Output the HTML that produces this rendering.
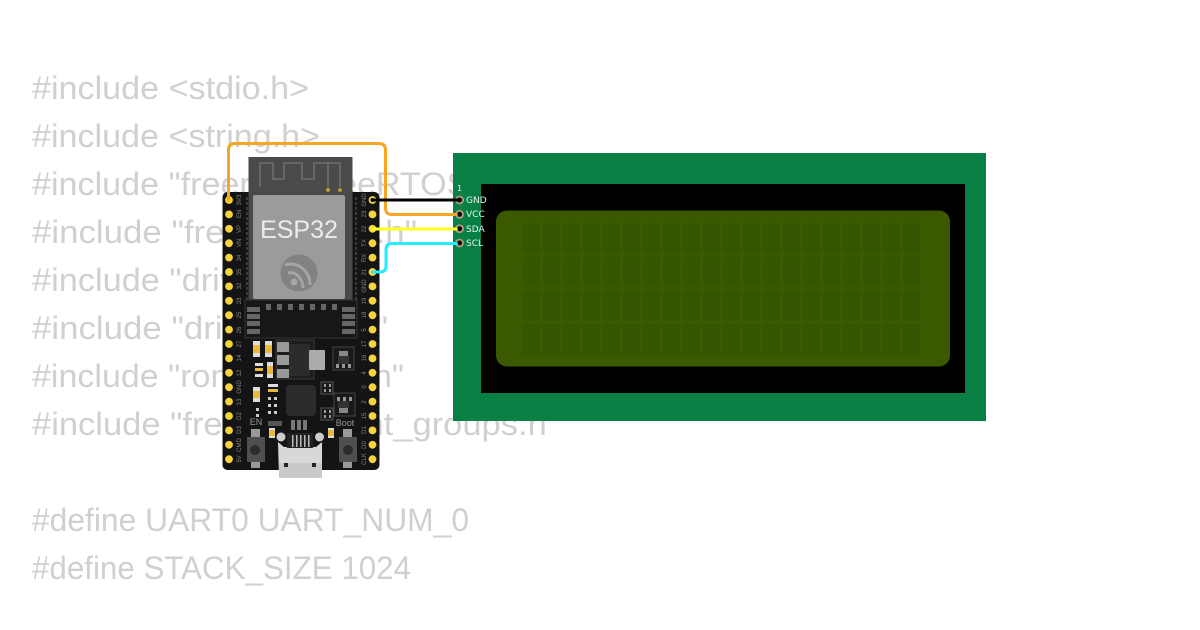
<!DOCTYPE html>
<html><head><meta charset="utf-8"><style>
html,body{margin:0;padding:0;background:#fff;width:1200px;height:630px;overflow:hidden}
svg{display:block}
.c{font:32px "Liberation Sans",sans-serif;fill:#d0d0d0}
.l{font:6px "Liberation Sans",sans-serif;fill:#858585}
.w{font:9px "DejaVu Sans",sans-serif;fill:#e8f2ec}
</style></head><body>
<svg width="1200" height="630" viewBox="0 0 1200 630" xmlns="http://www.w3.org/2000/svg">
<defs>
<pattern id="cell" x="523" y="223" width="20" height="33.6" patternUnits="userSpaceOnUse"><rect x="0" y="0" width="17" height="30.5" fill="#355500"/></pattern>
</defs>
<rect width="1200" height="630" fill="#fff"/>
<text class="c" x="32" y="99" textLength="277" lengthAdjust="spacingAndGlyphs">#include &lt;stdio.h&gt;</text>
<text class="c" x="32" y="147" textLength="288" lengthAdjust="spacingAndGlyphs">#include &lt;string.h&gt;</text>
<text class="c" x="32" y="195" textLength="478" lengthAdjust="spacingAndGlyphs">#include "freertos/FreeRTOS.h"</text>
<text class="c" x="32" y="243" textLength="385" lengthAdjust="spacingAndGlyphs">#include "freertos/task.h"</text>
<text class="c" x="32" y="291" textLength="345" lengthAdjust="spacingAndGlyphs">#include "driver/uart.h"</text>
<text class="c" x="32" y="339" textLength="356" lengthAdjust="spacingAndGlyphs">#include "driver/gpio.h"</text>
<text class="c" x="32" y="387" textLength="372" lengthAdjust="spacingAndGlyphs">#include "rom/ets_sys.h"</text>
<text class="c" x="32" y="435" textLength="527" lengthAdjust="spacingAndGlyphs">#include "freertos/event_groups.h"</text>
<text class="c" x="32" y="531" textLength="437" lengthAdjust="spacingAndGlyphs">#define UART0 UART_NUM_0</text>
<text class="c" x="32" y="579" textLength="379" lengthAdjust="spacingAndGlyphs">#define STACK_SIZE 1024</text>

<!-- LCD -->
<rect x="453" y="153" width="533" height="268" fill="#087f45"/>
<rect x="481" y="184" width="484" height="209" fill="#000"/>
<rect x="496" y="210.500" width="454" height="156" rx="11" fill="#3b5a00"/>
<rect x="523" y="223" width="400" height="131" fill="url(#cell)"/>
<g fill="#000" stroke="#a89a78" stroke-width="2">
<circle cx="459.500" cy="200" r="3.500"/><circle cx="459.500" cy="214.300" r="3.500"/><circle cx="459.500" cy="228.700" r="3.500"/><circle cx="459.500" cy="243" r="3.500"/>
</g>
<text class="w" x="457" y="191" style="font-size:8px">1</text>
<text class="w" x="466" y="203">GND</text>
<text class="w" x="466" y="217">VCC</text>
<text class="w" x="466" y="232">SDA</text>
<text class="w" x="466" y="246">SCL</text>

<!-- Board -->
<rect x="222.500" y="192" width="157" height="278" rx="5" fill="#141414"/>
<!-- module -->
<rect x="248.500" y="157" width="104" height="150" fill="#4a4a4a"/>
<path d="M260 187V163H273V179H284V163H302V179H314V163H340V187M328 163V187" fill="none" stroke="#666" stroke-width="2"/>
<circle cx="328" cy="190" r="2" fill="#b59a2e"/><circle cx="340" cy="190" r="2" fill="#b59a2e"/>
<path d="M247 197V300M356 197V300" stroke="#3a3a3a" stroke-width="2" stroke-dasharray="3 2" fill="none"/>
<rect x="245" y="300" width="112" height="38" fill="#171717" stroke="#333" stroke-width="1"/>
<rect x="253" y="195" width="92" height="104" rx="2" fill="#9b9b9b"/>
<text x="299" y="238" text-anchor="middle" style="font:25px 'Liberation Sans',sans-serif;fill:#ececec">ESP32</text>
<circle cx="299" cy="273" r="18.500" fill="#828282"/>
<path d="M285 265C298 261 310 271 310 285M288 273C296 271 303 279 303 288" fill="none" stroke="#a5a5a5" stroke-width="3"/>
<circle cx="294" cy="282" r="3.500" fill="#a5a5a5"/>
<g fill="#666">
<rect x="266" y="304" width="5" height="6"/><rect x="277" y="304" width="5" height="6"/><rect x="288" y="304" width="5" height="6"/><rect x="299" y="304" width="5" height="6"/><rect x="310" y="304" width="5" height="6"/><rect x="321" y="304" width="5" height="6"/><rect x="332" y="304" width="5" height="6"/>
<rect x="247" y="307" width="13" height="5"/><rect x="247" y="314" width="13" height="5"/><rect x="247" y="321" width="13" height="5"/><rect x="247" y="329" width="13" height="5"/>
<rect x="342" y="307" width="13" height="5"/><rect x="342" y="314" width="13" height="5"/><rect x="342" y="321" width="13" height="5"/><rect x="342" y="329" width="13" height="5"/>
</g>
<!-- regulator -->
<rect x="276" y="340" width="38" height="39" fill="#1d1d1d" stroke="#3a3a3a"/>
<rect x="277" y="342" width="12" height="10" fill="#999"/><rect x="277" y="355" width="12" height="10" fill="#999"/><rect x="277" y="369" width="12" height="9" fill="#999"/>
<rect x="289" y="344" width="21" height="32" fill="#2c2c2c"/>
<rect x="309" y="350" width="16" height="20" rx="1" fill="#aaa"/>
<!-- small chips -->
<rect x="333" y="347" width="21" height="23" fill="#1a1a1a" stroke="#444"/>
<rect x="339" y="351" width="9" height="5" fill="#888"/><rect x="338" y="356" width="11" height="8" fill="#333"/>
<rect x="336" y="364" width="3" height="4" fill="#999"/><rect x="342" y="364" width="3" height="4" fill="#999"/><rect x="348" y="364" width="3" height="4" fill="#999"/>
<rect x="334" y="393" width="21" height="23" fill="#1a1a1a" stroke="#444"/>
<rect x="337" y="397" width="3" height="4" fill="#999"/><rect x="343" y="397" width="3" height="4" fill="#999"/><rect x="349" y="397" width="3" height="4" fill="#999"/>
<rect x="339" y="408" width="9" height="5" fill="#888"/><rect x="338" y="401" width="11" height="7" fill="#333"/>
<rect x="321" y="382" width="12" height="12" fill="#1a1a1a" stroke="#555"/><rect x="321" y="408" width="12" height="12" fill="#1a1a1a" stroke="#555"/>
<g fill="#999"><rect x="324" y="384" width="2" height="3"/><rect x="329" y="384" width="2" height="3"/><rect x="324" y="389" width="2" height="3"/><rect x="329" y="389" width="2" height="3"/><rect x="324" y="410" width="2" height="3"/><rect x="329" y="410" width="2" height="3"/><rect x="324" y="415" width="2" height="3"/><rect x="329" y="415" width="2" height="3"/></g>
<!-- MCU -->
<rect x="286" y="385" width="30" height="31" rx="4" fill="#2b2b2b"/>
<!-- SMD parts -->
<g>
<rect x="253" y="341" width="7" height="16" fill="#ddd"/><rect x="253" y="345" width="7" height="8" fill="#e8b93a"/>
<rect x="265" y="341" width="7" height="16" fill="#ddd"/><rect x="265" y="345" width="7" height="8" fill="#e8b93a"/>
<rect x="267" y="362" width="6" height="16" fill="#ddd"/><rect x="267" y="366" width="6" height="8" fill="#e8b93a"/>
<rect x="253" y="387" width="7" height="15" fill="#ddd"/><rect x="253" y="391" width="7" height="7" fill="#e8b93a"/>
<rect x="255" y="363" width="8" height="3" fill="#ddd"/><rect x="255" y="368" width="8" height="3" fill="#e8b93a"/><rect x="255" y="374" width="8" height="3" fill="#ddd"/>
<rect x="268" y="384" width="10" height="3" fill="#ddd"/><rect x="268" y="389" width="10" height="3" fill="#e8b93a"/>
<g fill="#ccc"><rect x="268" y="397" width="3" height="3"/><rect x="274" y="397" width="3" height="3"/><rect x="268" y="404" width="3" height="3"/><rect x="274" y="404" width="3" height="3"/><rect x="268" y="411" width="3" height="3"/><rect x="274" y="411" width="3" height="3"/><rect x="256" y="408" width="3" height="3"/><rect x="256" y="414" width="3" height="3"/></g>
<rect x="269" y="428" width="6" height="10" fill="#ddd"/><rect x="269" y="430" width="6" height="6" fill="#e8b93a"/>
<rect x="328" y="428" width="6" height="10" fill="#ddd"/><rect x="328" y="430" width="6" height="6" fill="#e8b93a"/>
<rect x="268" y="421" width="14" height="5" fill="#555"/>
<g fill="#777"><rect x="291" y="420" width="4" height="10"/><rect x="297" y="420" width="4" height="10"/><rect x="303" y="420" width="4" height="10"/></g>
</g>
<text class="l" x="256" y="425" text-anchor="middle" style="font-size:9px;fill:#999">EN</text>
<text class="l" x="345" y="426" text-anchor="middle" style="font-size:9px;fill:#999">Boot</text>
<!-- buttons -->
<rect x="251" y="429" width="9" height="8" fill="#999"/><rect x="251" y="462" width="9" height="6" fill="#999"/>
<rect x="247" y="437" width="18" height="25" fill="#4f4f4f"/><circle cx="255" cy="450" r="5" fill="#2c2c2c"/>
<rect x="343" y="429" width="9" height="8" fill="#999"/><rect x="343" y="462" width="9" height="6" fill="#999"/>
<rect x="339" y="437" width="18" height="25" fill="#4f4f4f"/><circle cx="348" cy="450" r="5" fill="#2c2c2c"/>
<!-- USB -->
<path d="M278 442L284 447H316L322 442V477H279Z" fill="#d8d8d8"/>
<rect x="279" y="463" width="43" height="15" fill="#c9c9c9"/>
<rect x="287" y="433" width="26" height="15" fill="#222"/>
<g fill="#bbb"><rect x="292" y="435" width="1.500" height="12"/><rect x="296" y="435" width="1.500" height="12"/><rect x="300" y="435" width="1.500" height="12"/><rect x="304" y="435" width="1.500" height="12"/><rect x="308" y="435" width="1.500" height="12"/></g>
<circle cx="281" cy="437" r="4.500" fill="#ccc"/><circle cx="319.500" cy="437" r="4.500" fill="#ccc"/>
<rect x="284" y="463" width="4" height="4" fill="#222"/><rect x="312" y="463" width="4" height="4" fill="#222"/>
<!-- pins -->
<g fill="#f7d33c">
<circle cx="229" cy="200" r="3.900"/><circle cx="229" cy="214.400" r="3.900"/><circle cx="229" cy="228.800" r="3.900"/><circle cx="229" cy="243.200" r="3.900"/><circle cx="229" cy="257.600" r="3.900"/><circle cx="229" cy="272" r="3.900"/><circle cx="229" cy="286.400" r="3.900"/><circle cx="229" cy="300.800" r="3.900"/><circle cx="229" cy="315.200" r="3.900"/><circle cx="229" cy="329.600" r="3.900"/><circle cx="229" cy="344" r="3.900"/><circle cx="229" cy="358.400" r="3.900"/><circle cx="229" cy="372.800" r="3.900"/><circle cx="229" cy="387.200" r="3.900"/><circle cx="229" cy="401.600" r="3.900"/><circle cx="229" cy="416" r="3.900"/><circle cx="229" cy="430.400" r="3.900"/><circle cx="229" cy="444.800" r="3.900"/><circle cx="229" cy="459.200" r="3.900"/>
<circle cx="372.500" cy="200" r="3.900"/><circle cx="372.500" cy="214.400" r="3.900"/><circle cx="372.500" cy="228.800" r="3.900"/><circle cx="372.500" cy="243.200" r="3.900"/><circle cx="372.500" cy="257.600" r="3.900"/><circle cx="372.500" cy="272" r="3.900"/><circle cx="372.500" cy="286.400" r="3.900"/><circle cx="372.500" cy="300.800" r="3.900"/><circle cx="372.500" cy="315.200" r="3.900"/><circle cx="372.500" cy="329.600" r="3.900"/><circle cx="372.500" cy="344" r="3.900"/><circle cx="372.500" cy="358.400" r="3.900"/><circle cx="372.500" cy="372.800" r="3.900"/><circle cx="372.500" cy="387.200" r="3.900"/><circle cx="372.500" cy="401.600" r="3.900"/><circle cx="372.500" cy="416" r="3.900"/><circle cx="372.500" cy="430.400" r="3.900"/><circle cx="372.500" cy="444.800" r="3.900"/><circle cx="372.500" cy="459.200" r="3.900"/>
</g>
<circle cx="372.500" cy="200" r="2" fill="#141414"/>
<!-- pin labels -->
<g>
<text class="l" transform="translate(239,200) rotate(-90)" text-anchor="middle" y="2">3V3</text>
<text class="l" transform="translate(239,214) rotate(-90)" text-anchor="middle" y="2">EN</text>
<text class="l" transform="translate(239,229) rotate(-90)" text-anchor="middle" y="2">VP</text>
<text class="l" transform="translate(239,243) rotate(-90)" text-anchor="middle" y="2">VN</text>
<text class="l" transform="translate(239,258) rotate(-90)" text-anchor="middle" y="2">34</text>
<text class="l" transform="translate(239,272) rotate(-90)" text-anchor="middle" y="2">35</text>
<text class="l" transform="translate(239,286) rotate(-90)" text-anchor="middle" y="2">32</text>
<text class="l" transform="translate(239,301) rotate(-90)" text-anchor="middle" y="2">33</text>
<text class="l" transform="translate(239,315) rotate(-90)" text-anchor="middle" y="2">25</text>
<text class="l" transform="translate(239,330) rotate(-90)" text-anchor="middle" y="2">26</text>
<text class="l" transform="translate(239,344) rotate(-90)" text-anchor="middle" y="2">27</text>
<text class="l" transform="translate(239,358) rotate(-90)" text-anchor="middle" y="2">14</text>
<text class="l" transform="translate(239,373) rotate(-90)" text-anchor="middle" y="2">12</text>
<text class="l" transform="translate(239,387) rotate(-90)" text-anchor="middle" y="2">GND</text>
<text class="l" transform="translate(239,402) rotate(-90)" text-anchor="middle" y="2">13</text>
<text class="l" transform="translate(239,416) rotate(-90)" text-anchor="middle" y="2">D2</text>
<text class="l" transform="translate(239,430) rotate(-90)" text-anchor="middle" y="2">D3</text>
<text class="l" transform="translate(239,445) rotate(-90)" text-anchor="middle" y="2">CMD</text>
<text class="l" transform="translate(239,459) rotate(-90)" text-anchor="middle" y="2">5V</text>
<text class="l" transform="translate(364,200) rotate(-90)" text-anchor="middle" y="2">GND</text>
<text class="l" transform="translate(364,214) rotate(-90)" text-anchor="middle" y="2">23</text>
<text class="l" transform="translate(364,229) rotate(-90)" text-anchor="middle" y="2">22</text>
<text class="l" transform="translate(364,243) rotate(-90)" text-anchor="middle" y="2">TX</text>
<text class="l" transform="translate(364,258) rotate(-90)" text-anchor="middle" y="2">RX</text>
<text class="l" transform="translate(364,272) rotate(-90)" text-anchor="middle" y="2">21</text>
<text class="l" transform="translate(364,286) rotate(-90)" text-anchor="middle" y="2">GND</text>
<text class="l" transform="translate(364,301) rotate(-90)" text-anchor="middle" y="2">19</text>
<text class="l" transform="translate(364,315) rotate(-90)" text-anchor="middle" y="2">18</text>
<text class="l" transform="translate(364,330) rotate(-90)" text-anchor="middle" y="2">5</text>
<text class="l" transform="translate(364,344) rotate(-90)" text-anchor="middle" y="2">17</text>
<text class="l" transform="translate(364,358) rotate(-90)" text-anchor="middle" y="2">16</text>
<text class="l" transform="translate(364,373) rotate(-90)" text-anchor="middle" y="2">4</text>
<text class="l" transform="translate(364,387) rotate(-90)" text-anchor="middle" y="2">0</text>
<text class="l" transform="translate(364,402) rotate(-90)" text-anchor="middle" y="2">2</text>
<text class="l" transform="translate(364,416) rotate(-90)" text-anchor="middle" y="2">15</text>
<text class="l" transform="translate(364,430) rotate(-90)" text-anchor="middle" y="2">D1</text>
<text class="l" transform="translate(364,445) rotate(-90)" text-anchor="middle" y="2">D0</text>
<text class="l" transform="translate(364,459) rotate(-90)" text-anchor="middle" y="2">CLK</text>
</g>
<!-- wires -->
<g fill="none" stroke-width="3" stroke-linejoin="round" stroke-linecap="round">
<path d="M228.500 200V150Q228.500 143.500 235 143.500H379Q385.500 143.500 385.500 150V208Q385.500 214.500 392 214.500H459" stroke="#f5a623"/>
<path d="M372.500 200H459.500" stroke="#000"/>
<path d="M372.500 229H459.500" stroke="#ffff22"/>
<path d="M372.500 272H380Q386 272 386 266V250Q386 243.500 392 243.500H459.500" stroke="#22eeff"/>
</g>
<g fill="#000"><circle cx="459.500" cy="200" r="2"/><circle cx="459.500" cy="214.300" r="2"/><circle cx="459.500" cy="228.700" r="2"/><circle cx="459.500" cy="243" r="2"/></g>
</svg>
</body></html>
